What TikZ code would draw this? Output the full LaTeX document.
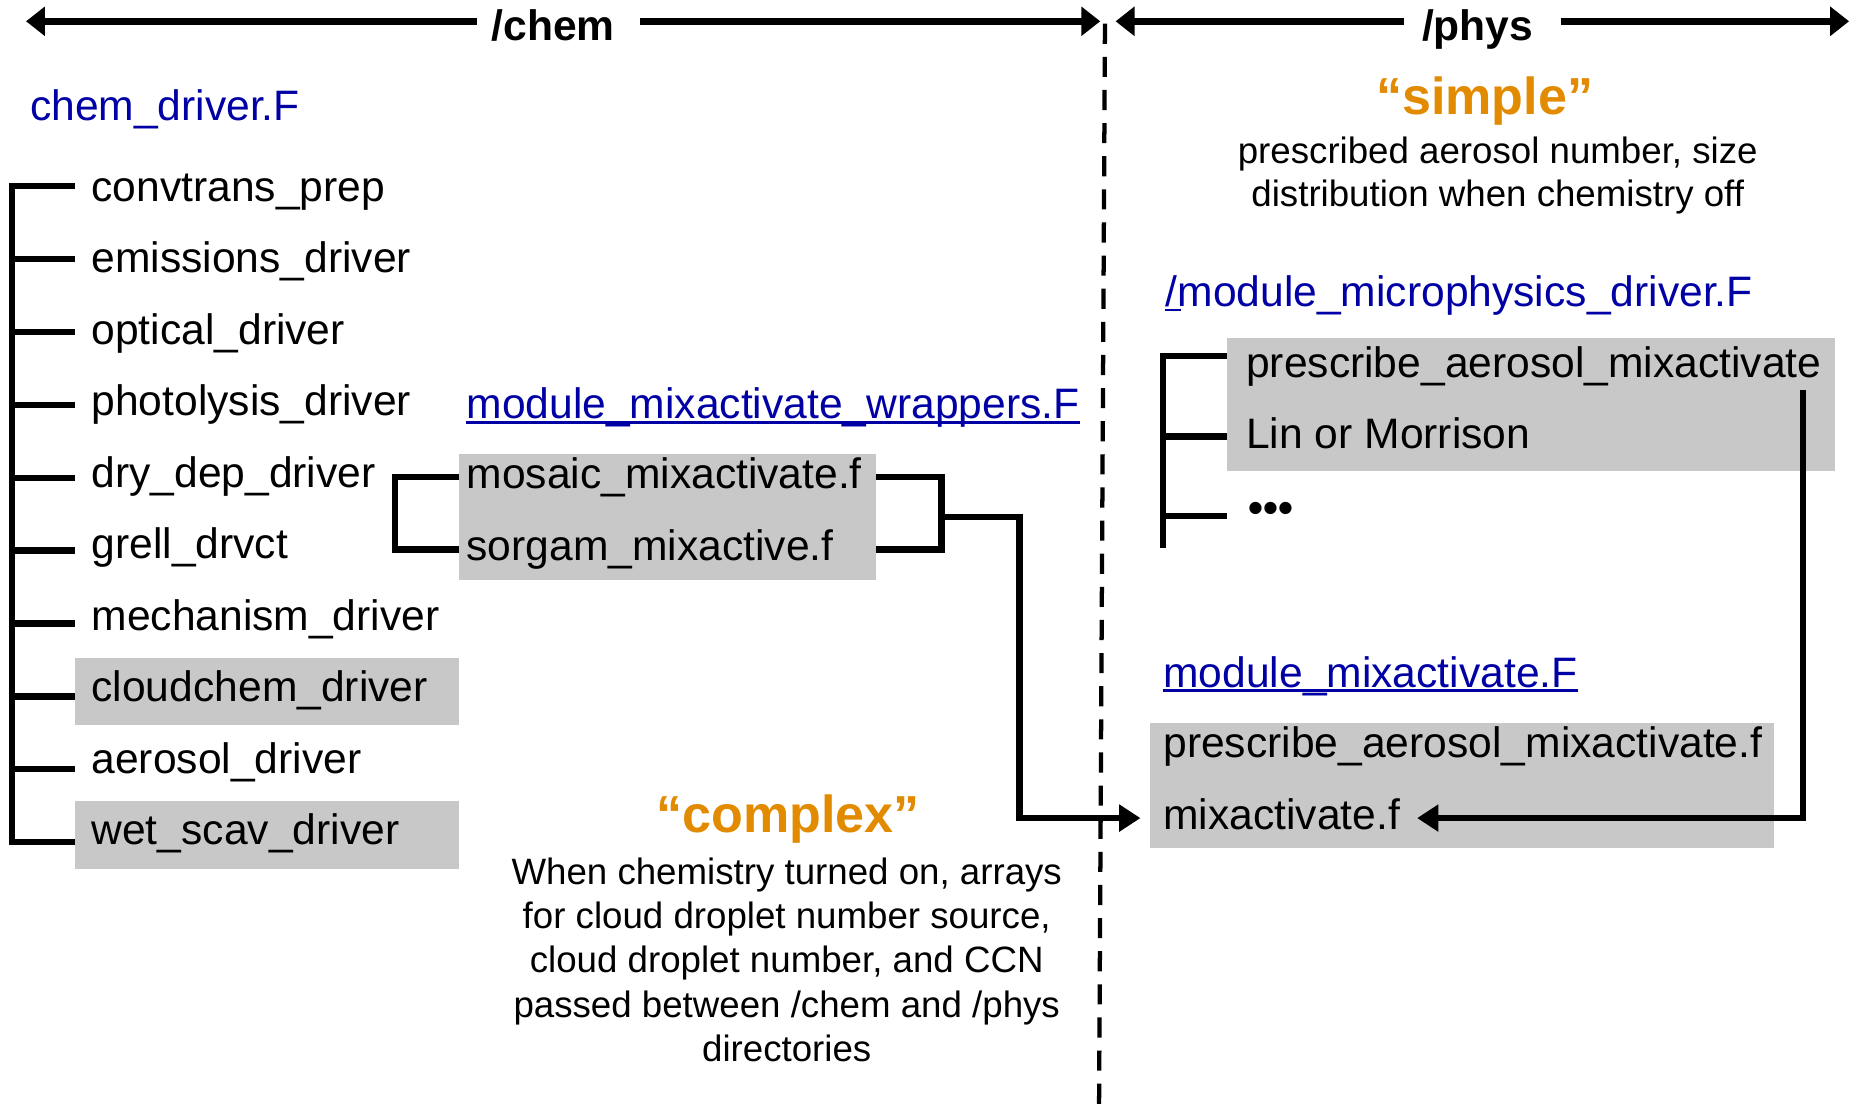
\documentclass[tikz,border=0pt]{standalone}
\usepackage{fontspec}
\setmainfont{Liberation Sans}
\usetikzlibrary{arrows.meta}
\definecolor{linkblue}{RGB}{0,0,165}
\definecolor{hiorange}{RGB}{226,138,0}
\definecolor{boxgray}{RGB}{200,200,200}
\begin{document}
\begin{tikzpicture}[x=0.5pt,y=-0.5pt,
  txt/.style={font=\fontsize{18}{21.6}\selectfont, inner sep=0pt, text height=13.5pt, text depth=4pt, anchor=base west},
  item/.style={txt, inner xsep=7pt},
  link/.style={txt, text=linkblue},
  title/.style={font=\bfseries\fontsize{18}{21.6}\selectfont, inner sep=0pt, text height=16pt, text depth=0pt, anchor=base},
  hilite/.style={font=\bfseries\fontsize{22}{26}\selectfont, text=hiorange, inner sep=0pt, anchor=base},
  desc/.style={font=\fontsize{15.5}{18.75}\selectfont, align=center, inner sep=0pt, anchor=north},
  graybox/.style={rectangle, fill=boxgray, draw=none, inner sep=0pt, anchor=north west},
  tree/.style={line width=2.6pt},
  conn/.style={line width=2.6pt},
  tip/.style={-{Triangle[length=9pt,width=11pt]}},
  bigarrow/.style={line width=3pt, -{Triangle[length=8pt,width=12pt]}},
  divider/.style={line width=1.8pt, dash pattern=on 8.5pt off 5.5pt},
  uline/.style={linkblue, line width=1.2pt}
]
\useasboundingbox (0,0) rectangle (1568,938);

% ---- top headers ----
\coordinate (chemL) at (22,18);
\coordinate (chemR) at (930,18);
\coordinate (physL) at (943,18);
\coordinate (physR) at (1563,18);
\node[title] (chem) at (467.5,34) {/chem};
\node[title] (phys) at (1249,34) {/phys};
\draw[bigarrow] ([xshift=-6pt]chem.west) -- (chemL);
\draw[bigarrow] ([xshift=10.5pt]chem.east) -- (chemR);
\draw[bigarrow] ([xshift=-7.5pt]phys.west) -- (physL);
\draw[bigarrow] ([xshift=11.5pt]phys.east) -- (physR);

% ---- divider ----
\coordinate (divT) at (934,20);
\coordinate (divB) at (929,938);
\draw[divider] (divT) -- (divB);

% ---- chem driver list ----
\node[link] (cdrv) at (25,102) {chem\_driver.F};
\node[graybox, minimum width=162.5pt, minimum height=28pt] (ccbox) at (63,556) {};
\node[graybox, minimum width=162.5pt, minimum height=28.5pt] (wsbox) at (63,677) {};
\draw[tree] (10,154.4) -- (10,714.6);
\foreach \t [count=\i from 0] in {convtrans\_prep, emissions\_driver, optical\_driver, photolysis\_driver, dry\_dep\_driver, grell\_drvct, mechanism\_driver, cloudchem\_driver, aerosol\_driver, wet\_scav\_driver}{
  \pgfmathsetmacro{\by}{170+60.44*\i}
  \pgfmathsetmacro{\ty}{157+61.67*\i}
  \node[item] (c\i) at (63,\by) {\t};
  \draw[tree] (7.4,\ty) -- (c\i.west |- 0,\ty);
}

% ---- wrappers ----
\node[link] (wl) at (394,354) {module\_mixactivate\_wrappers.F};
\draw[uline] ([yshift=-1.5pt]wl.base west) -- ([yshift=-1.5pt]wl.base east);
\node[graybox, minimum width=176pt, minimum height=53.5pt] (wrapbox) at (388,383) {};
\node[txt] (mosaic) at (394,413) {mosaic\_mixactivate.f};
\node[txt] (sorgam) at (394,474) {sorgam\_mixactive.f};
\draw[conn] (wrapbox.west |- mosaic.west) -- ++(-54,0) |- (wrapbox.west |- sorgam.west);
\draw[conn] (wrapbox.east |- mosaic.east) -- ++(55,0) |- (wrapbox.east |- sorgam.east);

% ---- complex ----
\node[hilite] (complex) at (666,704) {“complex”};
\node[desc] (cdesc) at (665,724.5) {When chemistry turned on, arrays\\for cloud droplet number source,\\cloud droplet number, and CCN\\passed between /chem and /phys\\directories};

% ---- simple ----
\node[hilite] (simple) at (1255,97) {“simple”};
\node[desc, font=\fontsize{15.5}{18}\selectfont] (sdesc) at (1266,115.5) {prescribed aerosol number, size\\distribution when chemistry off};

% ---- microphysics driver ----
\node[link] (ml) at (985,259) {/module\_microphysics\_driver.F};
\draw[uline] ([yshift=-1.5pt]ml.base west) -- ++(6.5pt,0);
\node[graybox, minimum width=257pt, minimum height=56.5pt] (micbox) at (1037,285) {};
\node[txt] (pam) at (1053,319) {prescribe\_aerosol\_mixactivate};
\node[txt] (lin) at (1053,379) {Lin or Morrison};
\node[txt] (dots) at (1055,442) {\textbf{•••}};
\draw[tree] (983,298.4) -- (983,463);
\draw[tree] (980.4,301) -- (micbox.west |- 0,301);
\draw[tree] (980.4,369) -- (micbox.west |- 0,369);
\draw[tree] (980.4,436) -- (micbox.west |- 0,436);

% ---- module_mixactivate ----
\node[link] (mal) at (983,581) {module\_mixactivate.F};
\draw[uline] ([yshift=-1.5pt]mal.base west) -- ([yshift=-1.5pt]mal.base east);
\node[graybox, minimum width=263.5pt, minimum height=52.5pt] (mixbox) at (972,611) {};
\node[txt] (pamf) at (983,640) {prescribe\_aerosol\_mixactivate.f};
\node[txt] (mixact) at (983,701) {mixactivate.f};

% ---- connectors to mixactivate ----
\draw[conn, tip] ([xshift=27.5pt]wrapbox.east) -- ++(66,0) |- ([xshift=-4pt]mixbox.west |- mixact.west);
\coordinate (loopstart) at (1524,330);
\draw[conn, tip] (loopstart) |- ([xshift=7pt]mixact.east);
\end{tikzpicture}
\end{document}
